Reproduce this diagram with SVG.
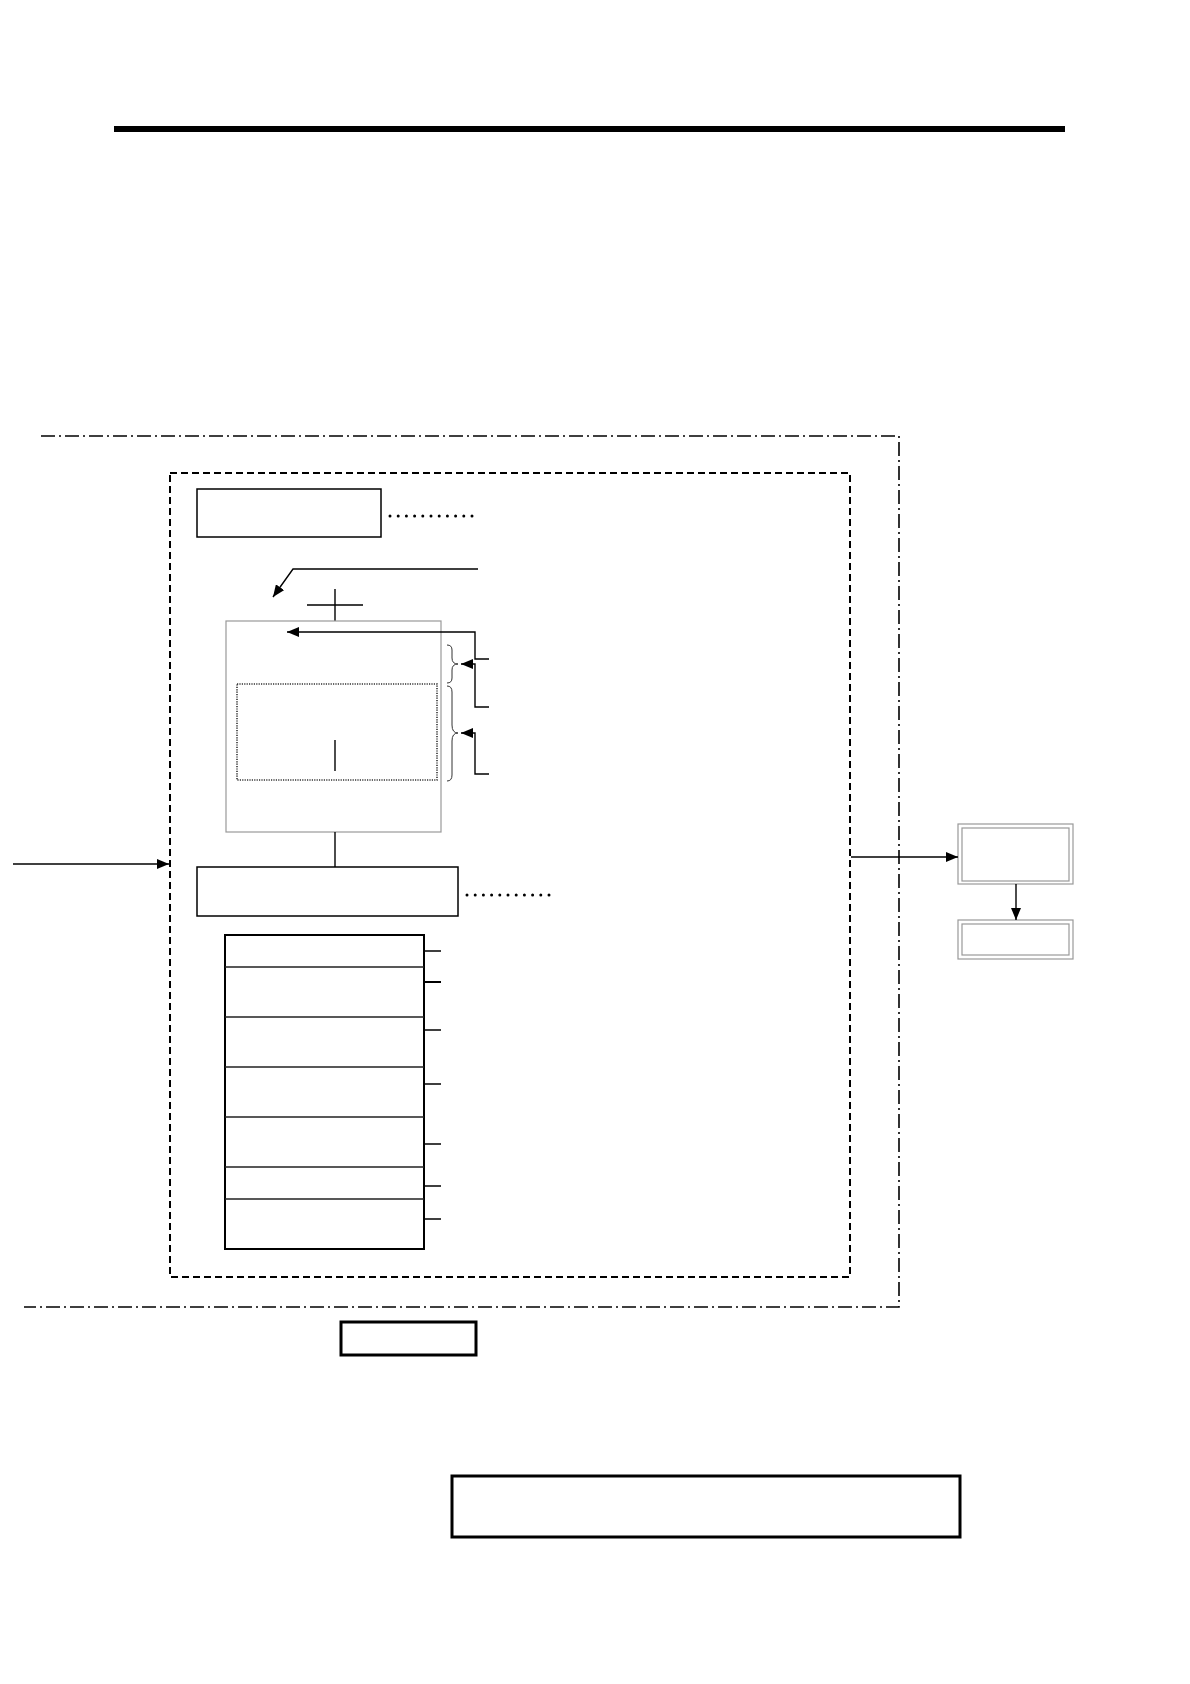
<svg xmlns="http://www.w3.org/2000/svg" width="1190" height="1684" viewBox="0 0 1190 1684">
<style>
.box{fill:#fff;stroke:#000;stroke-width:1.5}
.thick{fill:#fff;stroke:#000;stroke-width:3}
.gray{fill:#fff;stroke:#999;stroke-width:1.2}
.ln{fill:none;stroke:#000;stroke-width:1.4}
.dots{fill:none;stroke:#000;stroke-width:3;stroke-linecap:round;stroke-dasharray:0 8.2}
.dashdot{fill:none;stroke:#000;stroke-width:1.6;stroke-dasharray:14 4 2 4}
.dash{fill:none;stroke:#000;stroke-width:2;stroke-dasharray:7 4}
</style>
<defs>
<marker id="ahs" markerWidth="12" markerHeight="10" refX="12" refY="5" orient="auto" markerUnits="userSpaceOnUse">
<path d="M0,0 L12,5 L0,10 Z" fill="#000"/>
</marker>
</defs>
<rect width="1190" height="1684" fill="#fff"/>
<g id="top-bar"><rect x="114" y="126" width="951" height="6" fill="#000"/></g>
<g id="outer-boundary"><path class="dashdot" d="M41,436 H899 V1307 H24"/></g>
<g id="inner-boundary"><rect class="dash" x="170" y="473" width="680" height="804"/></g>
<g id="box-a"><rect class="box" x="197" y="489" width="184" height="48"/><path class="dots" d="M390,516 H472"/></g>
<g id="cross"><path class="ln" d="M335,589 V621 M307,605 H363"/></g>
<g id="big-box"><rect class="gray" x="226" y="621" width="215" height="211"/>
<rect x="237" y="684" width="200" height="96" fill="none" stroke="#333" stroke-width="1.6" stroke-dasharray="1.2 1.2"/>
<path class="ln" d="M335,740 V771"/></g>
<g id="brace-1"><path fill="none" stroke="#333" stroke-width="1" d="M447,645 Q452,645 452,650 V658 Q452,664 458,664 Q452,664 452,670 V678 Q452,683 447,683"/></g>
<g id="brace-2"><path fill="none" stroke="#333" stroke-width="1" d="M447,686 Q452,686 452,692 V725 Q452,733 458,733 Q452,733 452,741 V775 Q452,781 447,781"/></g>
<g id="box-b"><rect class="box" x="197" y="867" width="261" height="49"/><path class="dots" d="M467,895 H549"/></g>
<g id="stack">
<rect x="225" y="935" width="199" height="314" fill="#fff" stroke="#000" stroke-width="2"/>
<path fill="none" stroke="#222" stroke-width="1.5" d="M225,967 H424 M225,1017 H424 M225,1067 H424 M225,1117 H424 M225,1167 H424 M225,1199 H424"/>
</g>
<g id="box-c"><rect class="gray" x="958" y="824" width="115" height="60"/><rect class="gray" x="962" y="828" width="107" height="53"/></g>
<g id="box-d"><rect class="gray" x="958" y="920" width="115" height="39"/><rect class="gray" x="962" y="924" width="107" height="31"/></g>
<g id="box-e"><rect class="thick" x="341" y="1322" width="135" height="33"/></g>
<g id="box-f"><rect class="thick" x="452" y="1476" width="508" height="61"/></g>
<g id="connectors">
<path class="ln" d="M478,569 H293 L273,597" marker-end="url(#ahs)"/>
<path class="ln" d="M489,659 H475 V632 H287" marker-end="url(#ahs)"/>
<path class="ln" d="M489,707 H475 V664 H461" marker-end="url(#ahs)"/>
<path class="ln" d="M489,774 H475 V733 H461" marker-end="url(#ahs)"/>
<path class="ln" d="M335,832 V867"/>
<path class="ln" d="M13,864 H169" marker-end="url(#ahs)"/>
<path class="ln" d="M851,857 H958" marker-end="url(#ahs)"/>
<path class="ln" d="M1016,884 V920" marker-end="url(#ahs)"/>
<path class="ln" d="M424,951 H441 M424,1030 H441 M424,1084 H441 M424,1144 H441 M424,1186 H441 M424,1219 H441"/>
<path fill="none" stroke="#000" stroke-width="2" d="M424,982 H441"/>
</g>
</svg>
